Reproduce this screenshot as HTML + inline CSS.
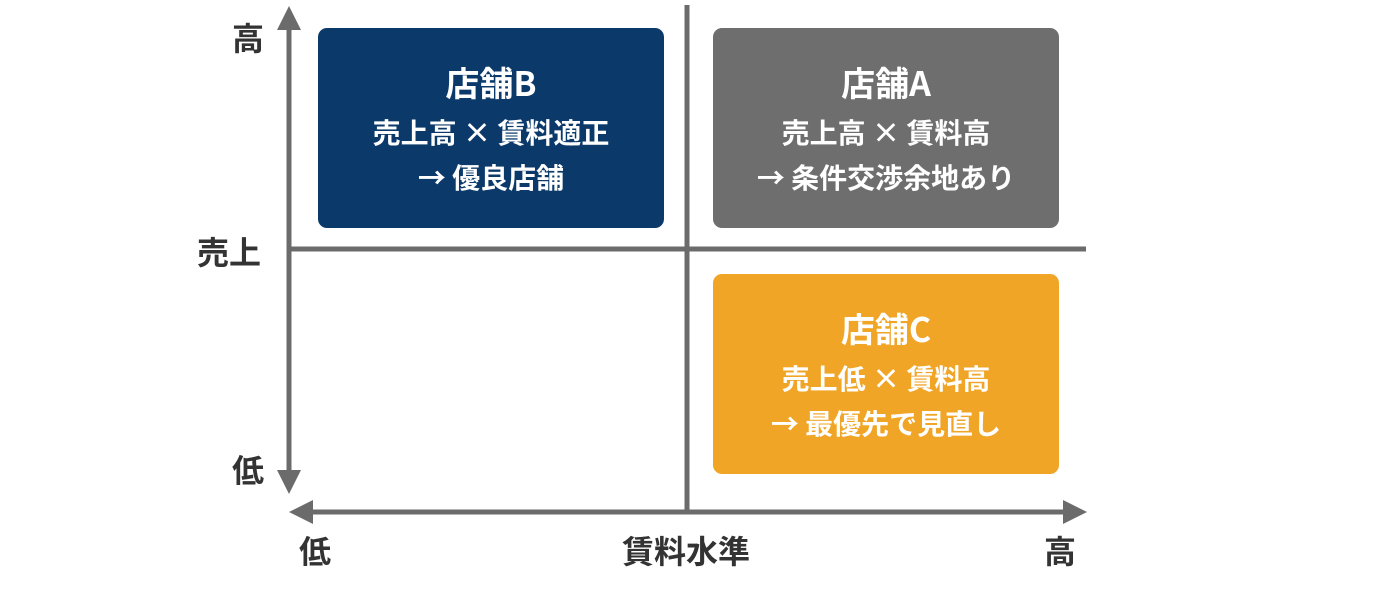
<!DOCTYPE html>
<html><head><meta charset="utf-8"><style>
body{margin:0;width:1376px;height:616px;background:#fff;position:relative;overflow:hidden;font-family:"Liberation Sans","Noto Sans CJK JP",sans-serif;}
.box{position:absolute;width:346px;height:200px;border-radius:9px;color:#fff;text-align:center;font-weight:bold;font-family:"Noto Sans CJK JP",sans-serif;}
.t{position:absolute;left:0;right:0;font-size:34px;top:32px;line-height:44px;}
.l{position:absolute;left:0;right:0;font-size:28px;line-height:36px;}
.lab{position:absolute;font-size:32px;font-weight:bold;color:#333;line-height:40px;font-family:"Noto Sans CJK JP",sans-serif;}
</style></head><body>
<svg width="1376" height="616" style="position:absolute;left:0;top:0">
<g stroke="#6b6b6b" stroke-width="5" fill="none">
<line x1="289" y1="24" x2="289" y2="476"/>
<line x1="687" y1="5" x2="687" y2="512"/>
<line x1="289" y1="249" x2="1086" y2="249"/>
<line x1="306" y1="512" x2="1070" y2="512"/>
</g>
<g fill="#6b6b6b">
<polygon points="289,6 277,30 301,30"/>
<polygon points="289,494 277,470 301,470"/>
<polygon points="289,512 313,500 313,524"/>
<polygon points="1087,512 1063,500 1063,524"/>
</g>
</svg>
<div class="box" style="left:318px;top:28px;background:#0b3a6a"><div class="t">店舗B</div><div class="l" style="top:86px">売上高 × 賃料適正</div><div class="l" style="top:131px">→ 優良店舗</div></div>
<div class="box" style="left:713px;top:28px;background:#6e6e6e"><div class="t">店舗A</div><div class="l" style="top:86px">売上高 × 賃料高</div><div class="l" style="top:131px">→ 条件交渉余地あり</div></div>
<div class="box" style="left:713px;top:274px;background:#f0a526"><div class="t">店舗C</div><div class="l" style="top:86px">売上低 × 賃料高</div><div class="l" style="top:131px">→ 最優先で見直し</div></div>
<div class="lab" style="left:232px;top:17px">高</div>
<div class="lab" style="left:197px;top:231px">売上</div>
<div class="lab" style="left:232px;top:449px">低</div>
<div class="lab" style="left:299px;top:530px">低</div>
<div class="lab" style="left:622px;top:530px">賃料水準</div>
<div class="lab" style="left:1044px;top:530px">高</div>
</body></html>
